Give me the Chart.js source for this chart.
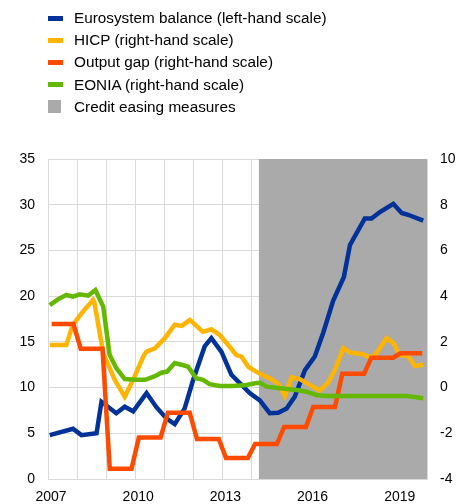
<!DOCTYPE html>
<html>
<head>
<meta charset="utf-8">
<script src="https://cdn.jsdelivr.net/npm/chart.js@4.4.1/dist/chart.umd.min.js"></script>
<style>
    body { margin: 0; background: #fff; }
    #wrap { position: relative; width: 456px; height: 504px; }
    #legend { position: absolute; left: 0; top: 0; font: 15.3px "Liberation Sans", Arial, sans-serif; color: #000; }
    .item { position: absolute; left: 48px; height: 22px; display: flex; align-items: center; white-space: nowrap; }
    .swatch-cell { width: 26px; display: flex; align-items: center; }
</style>
</head>
<body>
<div id="wrap">
    <canvas id="chart" width="456" height="504"></canvas>
    <div id="legend"></div>
</div>
<script>
// Eurosystem balance sheet vs. macro indicators (2007-2019)
const xTickYears = [2007, 2010, 2013, 2016, 2019];

// Eurosystem balance (left-hand scale)
const balanceYears = [2007.06, 2007.86, 2008.15, 2008.67, 2008.84, 2009.35, 2009.64, 2009.93, 2010.39, 2010.73,
    2011.08, 2011.36, 2011.7, 2011.99, 2012.39, 2012.62, 2012.97, 2013.31, 2013.66, 2013.94,
    2014.29, 2014.46, 2014.63, 2014.92, 2015.21, 2015.49, 2015.84, 2016.18, 2016.47, 2016.81,
    2017.18, 2017.39, 2017.9, 2018.13, 2018.42, 2018.88, 2019.17, 2019.39, 2019.91];
const balanceValues = [4.8, 5.5, 4.8, 5.0, 8.45, 7.2, 7.9, 7.4, 9.4, 7.85,
    6.6, 6.0, 7.7, 10.8, 14.5, 15.4, 13.9, 11.4, 10.3, 9.4,
    8.6, 7.9, 7.2, 7.25, 7.7, 9.0, 11.9, 13.4, 16.0, 19.5,
    22.1, 25.6, 28.5, 28.5, 29.2, 30.1, 29.1, 28.9, 28.25];

// HICP (right-hand scale)
const hicpYears = [2007.06, 2007.63, 2007.85, 2008.2, 2008.55, 2008.6, 2008.9, 2009.3, 2009.64, 2009.95,
    2010.3, 2010.39, 2010.68, 2011.02, 2011.36, 2011.6, 2011.88, 2012.33, 2012.62, 2012.91,
    2013.2, 2013.48, 2013.66, 2013.89, 2014.17, 2014.46, 2014.63, 2014.92, 2015.15, 2015.38,
    2015.66, 2016.0, 2016.35, 2016.64, 2016.87, 2017.16, 2017.39, 2017.79, 2018.08, 2018.25,
    2018.65, 2018.88, 2019.1, 2019.39, 2019.62, 2019.91];
const hicpValues = [1.86, 1.86, 2.74, 3.32, 3.83, 3.7, 1.5, 0.33, -0.4, 0.4,
    1.42, 1.57, 1.72, 2.16, 2.75, 2.7, 2.96, 2.44, 2.55, 2.3,
    1.86, 1.42, 1.35, 0.91, 0.69, 0.5, 0.41, 0.16, -0.37, 0.45,
    0.37, 0.12, -0.13, 0.22, 0.77, 1.72, 1.53, 1.47, 1.32, 1.42,
    2.16, 1.96, 1.42, 1.38, 0.94, 1.0];

// Output gap (right-hand scale), one value per year
const gapYears = [2007, 2008, 2009, 2010, 2011, 2012, 2013, 2014, 2015, 2016, 2017, 2018, 2019];
const gapValues = [2.78, 1.7, -3.55, -2.18, -1.1, -2.25, -3.08, -2.47, -1.72, -0.85, 0.6, 1.31, 1.5];

// EONIA (right-hand scale)
const eoniaYears = [2007.06, 2007.34, 2007.63, 2007.86, 2008.09, 2008.38, 2008.63, 2008.9, 2009.12, 2009.35,
    2009.64, 2010.0, 2010.34, 2010.68, 2010.9, 2011.1, 2011.36, 2011.59, 2011.82, 2012.1,
    2012.33, 2012.56, 2012.91, 2013.37, 2013.83, 2014.12, 2014.29, 2014.52, 2014.98, 2015.55,
    2015.9, 2016.24, 2016.59, 2017.5, 2019.34, 2019.91];
const eoniaValues = [3.61, 3.86, 4.05, 3.98, 4.08, 4.02, 4.27, 3.54, 1.43, 0.85,
    0.37, 0.34, 0.34, 0.5, 0.65, 0.7, 1.07, 1.0, 0.91, 0.41,
    0.34, 0.15, 0.07, 0.07, 0.11, 0.19, 0.21, 0.04, -0.03, -0.11,
    -0.18, -0.33, -0.37, -0.37, -0.37, -0.47];

// Credit easing measures (shaded period)
const easingStart = 2014.25;
const easingEnd = 2020.04;

const xMin = 2007;
const xMax = 2020.04;

function toPoints(xs, ys) {
    return xs.map((x, i) => ({ x: x, y: ys[i] }));
}

// annual output gap, flat from first to last quarter of each year
function gapPoints() {
    const pts = [];
    gapYears.forEach((yr, i) => {
        pts.push({ x: yr + 0.125, y: gapValues[i] });
        pts.push({ x: yr + 0.875, y: gapValues[i] });
    });
    return pts;
}

const legendItems = [
    { label: 'Eurosystem balance (left-hand scale)', color: '#003299', type: 'line' },
    { label: 'HICP (right-hand scale)', color: '#ffb400', type: 'line' },
    { label: 'Output gap (right-hand scale)', color: '#ff4b00', type: 'line' },
    { label: 'EONIA (right-hand scale)', color: '#65b800', type: 'line' },
    { label: 'Credit easing measures', color: '#aaaaaa', type: 'box' }
];

function buildLegend() {
    const el = document.getElementById('legend');
    legendItems.forEach((item, i) => {
        const row = document.createElement('div');
        row.className = 'item';
        row.style.top = (7 + i * 22.2) + 'px';
        const cell = document.createElement('div');
        cell.className = 'swatch-cell';
        const sw = document.createElement('div');
        if (item.type === 'line') {
            sw.style.width = '15px';
            sw.style.height = '5px';
        } else {
            sw.style.width = '13px';
            sw.style.height = '13px';
        }
        sw.style.background = item.color;
        cell.appendChild(sw);
        const txt = document.createElement('span');
        txt.textContent = item.label;
        row.appendChild(cell);
        row.appendChild(txt);
        el.appendChild(row);
    });
}

buildLegend();

Chart.defaults.font.family = '"Liberation Sans", Arial, sans-serif';
Chart.defaults.font.size = 14;
Chart.defaults.color = '#000';

const gridColor = '#d9d9d9';
const lineWidth = 4.5;

const ctx = document.getElementById('chart').getContext('2d');
new Chart(ctx, {
    type: 'line',
    data: {
        datasets: [
            {
                label: 'Credit easing measures',
                data: [{ x: easingStart, y: 35 }, { x: easingEnd, y: 35 }],
                yAxisID: 'y',
                backgroundColor: '#aaaaaa',
                borderWidth: 0,
                pointRadius: 0,
                fill: 'origin',
                order: 10
            },
            {
                label: 'Eurosystem balance (left-hand scale)',
                data: toPoints(balanceYears, balanceValues),
                yAxisID: 'y',
                borderColor: '#003299',
                borderWidth: lineWidth,
                pointRadius: 0,
                order: 4
            },
            {
                label: 'HICP (right-hand scale)',
                data: toPoints(hicpYears, hicpValues),
                yAxisID: 'y1',
                borderColor: '#ffb400',
                borderWidth: lineWidth,
                pointRadius: 0,
                order: 3
            },
            {
                label: 'Output gap (right-hand scale)',
                data: gapPoints(),
                yAxisID: 'y1',
                borderColor: '#ff4b00',
                borderWidth: lineWidth,
                pointRadius: 0,
                order: 2
            },
            {
                label: 'EONIA (right-hand scale)',
                data: toPoints(eoniaYears, eoniaValues),
                yAxisID: 'y1',
                borderColor: '#65b800',
                borderWidth: lineWidth,
                pointRadius: 0,
                order: 1
            }
        ]
    },
    options: {
        responsive: false,
        animation: false,
        layout: {
            padding: { top: 159, left: 0, right: 0, bottom: 0 }
        },
        plugins: {
            legend: { display: false },
            tooltip: { enabled: false }
        },
        elements: {
            line: { tension: 0 }
        },
        scales: {
            x: {
                type: 'linear',
                min: xMin,
                max: xMax,
                afterFit: (scale) => { scale.height = 25; },
                afterBuildTicks: (scale) => {
                    const ticks = [];
                    for (let yr = xMin; yr <= xMax; yr++) ticks.push({ value: yr });
                    scale.ticks = ticks;
                },
                ticks: {
                    autoSkip: false,
                    maxRotation: 0,
                    padding: 10,
                    labelOffset: 3,
                    callback: (v) => xTickYears.includes(v) ? String(v) : ''
                },
                grid: { color: gridColor, drawTicks: false },
                border: { color: gridColor }
            },
            y: {
                position: 'left',
                min: 0,
                max: 35,
                afterFit: (scale) => { scale.width = 48; },
                ticks: { stepSize: 5, padding: 13 },
                grid: { color: gridColor, drawTicks: false },
                border: { color: gridColor }
            },
            y1: {
                position: 'right',
                min: -4,
                max: 10,
                afterFit: (scale) => { scale.width = 29; },
                ticks: { stepSize: 2, padding: 13 },
                grid: { display: false, drawTicks: false },
                border: { color: gridColor }
            }
        }
    }
});
</script>
</body>
</html>
